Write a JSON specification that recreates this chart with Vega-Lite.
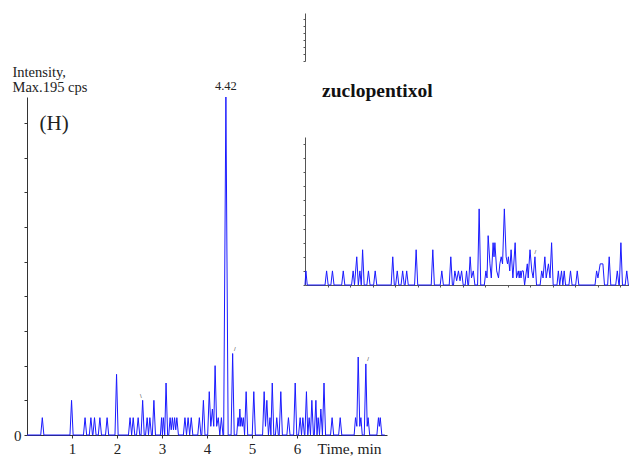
{
  "$schema": "https://vega.github.io/schema/vega-lite/v6.json",
  "width": 629,
  "height": 457,
  "autosize": {"type": "none"},
  "padding": 0,
  "background": "white",
  "config": {
    "view": {"stroke": null},
    "axis": {"grid": false, "domainColor": "#333333", "tickColor": "#333333", "labelColor": "#222222", "titleColor": "#222222", "labelFont": "Liberation Serif", "titleFont": "Liberation Serif", "titleFontWeight": "normal", "domainWidth": 1, "tickWidth": 1}
  },
  "datasets": {
    "main": [
      {"t":0,"v":0},{"t":0.305,"v":0},{"t":0.34,"v":10},{"t":0.375,"v":0},{"t":0.955,"v":0},{"t":0.99,"v":20},{"t":1.025,"v":0},
      {"t":1.255,"v":0},{"t":1.29,"v":10},{"t":1.325,"v":0},{"t":1.385,"v":0},{"t":1.42,"v":10},{"t":1.455,"v":0},{"t":1.465,"v":0},{"t":1.50,"v":10},{"t":1.535,"v":0},
      {"t":1.585,"v":0},{"t":1.62,"v":10},{"t":1.655,"v":0},{"t":1.745,"v":0},{"t":1.78,"v":10},{"t":1.815,"v":0},{"t":1.955,"v":0},{"t":1.99,"v":35},{"t":2.025,"v":0},
      {"t":2.255,"v":0},{"t":2.29,"v":10},{"t":2.325,"v":0},{"t":2.36,"v":10},{"t":2.395,"v":0},{"t":2.435,"v":0},{"t":2.47,"v":10},{"t":2.505,"v":0},
      {"t":2.535,"v":0},{"t":2.57,"v":20},{"t":2.605,"v":0},{"t":2.635,"v":0},{"t":2.67,"v":10},{"t":2.70,"v":0},{"t":2.73,"v":10},{"t":2.765,"v":0},
      {"t":2.785,"v":0},{"t":2.82,"v":20},{"t":2.855,"v":0},{"t":2.965,"v":0},{"t":2.99,"v":10},{"t":3.01,"v":0},{"t":3.03,"v":10},{"t":3.06,"v":0},{"t":3.09,"v":30},{"t":3.125,"v":0},
      {"t":3.15,"v":0},{"t":3.18,"v":10},{"t":3.205,"v":3},{"t":3.23,"v":10},{"t":3.255,"v":3},{"t":3.28,"v":10},{"t":3.305,"v":3},{"t":3.33,"v":10},{"t":3.365,"v":0},
      {"t":3.475,"v":0},{"t":3.51,"v":10},{"t":3.545,"v":0},{"t":3.58,"v":10},{"t":3.615,"v":0},{"t":3.65,"v":10},{"t":3.685,"v":0},
      {"t":3.795,"v":0},{"t":3.83,"v":10},{"t":3.865,"v":0},{"t":3.885,"v":0},{"t":3.92,"v":20},{"t":3.955,"v":0},
      {"t":4.015,"v":0},{"t":4.05,"v":25},{"t":4.085,"v":5},{"t":4.12,"v":15},{"t":4.15,"v":5},{"t":4.18,"v":40},{"t":4.215,"v":5},{"t":4.25,"v":10},{"t":4.285,"v":0},{"t":4.32,"v":10},{"t":4.355,"v":0},
      {"t":4.37,"v":0},{"t":4.42,"v":195},{"t":4.47,"v":0},{"t":4.535,"v":0},{"t":4.57,"v":47},{"t":4.605,"v":0},
      {"t":4.66,"v":0},{"t":4.69,"v":10},{"t":4.71,"v":5},{"t":4.73,"v":15},{"t":4.75,"v":5},{"t":4.77,"v":10},{"t":4.79,"v":5},{"t":4.81,"v":10},{"t":4.835,"v":0},{"t":4.87,"v":25},{"t":4.905,"v":0},
      {"t":5.005,"v":0},{"t":5.04,"v":25},{"t":5.075,"v":0},{"t":5.235,"v":0},{"t":5.27,"v":25},{"t":5.30,"v":5},{"t":5.33,"v":20},{"t":5.365,"v":0},{"t":5.40,"v":10},{"t":5.42,"v":0},{"t":5.45,"v":30},{"t":5.485,"v":0},
      {"t":5.52,"v":0},{"t":5.55,"v":10},{"t":5.585,"v":0},{"t":5.605,"v":0},{"t":5.64,"v":25},{"t":5.675,"v":0},{"t":5.775,"v":0},{"t":5.81,"v":10},{"t":5.845,"v":0},{"t":5.925,"v":0},{"t":5.96,"v":30},{"t":5.995,"v":0},
      {"t":6.035,"v":0},{"t":6.07,"v":10},{"t":6.10,"v":0},{"t":6.13,"v":10},{"t":6.165,"v":0},{"t":6.175,"v":0},{"t":6.21,"v":25},{"t":6.24,"v":0},{"t":6.27,"v":10},{"t":6.30,"v":0},{"t":6.33,"v":20},{"t":6.365,"v":0},
      {"t":6.385,"v":0},{"t":6.42,"v":20},{"t":6.445,"v":0},{"t":6.47,"v":10},{"t":6.50,"v":0},{"t":6.53,"v":15},{"t":6.565,"v":0},{"t":6.60,"v":30},{"t":6.635,"v":0},
      {"t":6.745,"v":0},{"t":6.78,"v":10},{"t":6.815,"v":0},{"t":6.925,"v":0},{"t":6.96,"v":10},{"t":6.995,"v":0},
      {"t":7.27,"v":0},{"t":7.30,"v":10},{"t":7.33,"v":5},{"t":7.36,"v":45},{"t":7.395,"v":5},{"t":7.42,"v":10},{"t":7.45,"v":0},{"t":7.495,"v":0},{"t":7.53,"v":41},{"t":7.56,"v":5},{"t":7.58,"v":10},{"t":7.615,"v":0},
      {"t":7.775,"v":0},{"t":7.81,"v":10},{"t":7.83,"v":5},{"t":7.85,"v":10},{"t":7.885,"v":0},{"t":7.95,"v":0}
    ],
    "inset": [
      {"t":0,"v":0},{"t":0.02,"v":1},{"t":0.05,"v":0},{"t":0.445,"v":0},{"t":0.48,"v":1},{"t":0.515,"v":0},{"t":0.575,"v":0},{"t":0.61,"v":1},{"t":0.645,"v":0},
      {"t":0.815,"v":0},{"t":0.85,"v":1},{"t":0.885,"v":0},{"t":1.035,"v":0},{"t":1.07,"v":1},{"t":1.10,"v":0},{"t":1.15,"v":2},{"t":1.185,"v":0},{"t":1.22,"v":1},{"t":1.25,"v":0},{"t":1.28,"v":2.5},{"t":1.315,"v":0},
      {"t":1.375,"v":0},{"t":1.41,"v":1},{"t":1.445,"v":0},{"t":1.525,"v":0},{"t":1.56,"v":1},{"t":1.595,"v":0},{"t":1.915,"v":0},{"t":1.95,"v":2},{"t":1.985,"v":0},
      {"t":2.015,"v":0},{"t":2.05,"v":1},{"t":2.085,"v":0},{"t":2.135,"v":0},{"t":2.17,"v":1},{"t":2.205,"v":0},{"t":2.225,"v":0},{"t":2.26,"v":1},{"t":2.295,"v":0},
      {"t":2.435,"v":0},{"t":2.47,"v":2.5},{"t":2.505,"v":0},{"t":2.805,"v":0},{"t":2.84,"v":2.5},{"t":2.875,"v":0},{"t":3.005,"v":0},{"t":3.04,"v":1},{"t":3.075,"v":0},
      {"t":3.205,"v":0},{"t":3.24,"v":2},{"t":3.275,"v":0},{"t":3.30,"v":0},{"t":3.33,"v":1},{"t":3.37,"v":0.3},{"t":3.41,"v":1},{"t":3.445,"v":0.3},{"t":3.48,"v":1},{"t":3.515,"v":0},
      {"t":3.56,"v":0},{"t":3.59,"v":1},{"t":3.62,"v":0},{"t":3.635,"v":0},{"t":3.67,"v":2},{"t":3.70,"v":0.5},{"t":3.74,"v":1},{"t":3.775,"v":0},{"t":3.835,"v":0},{"t":3.87,"v":5.4},{"t":3.905,"v":0},
      {"t":3.985,"v":0},{"t":4.02,"v":1},{"t":4.045,"v":0.5},{"t":4.07,"v":3.5},{"t":4.11,"v":1.5},{"t":4.14,"v":0.5},{"t":4.18,"v":3},{"t":4.20,"v":2},{"t":4.22,"v":3},{"t":4.26,"v":1},{"t":4.30,"v":0.5},
      {"t":4.33,"v":1.5},{"t":4.36,"v":2},{"t":4.39,"v":1.5},{"t":4.43,"v":5.4},{"t":4.47,"v":2},{"t":4.50,"v":1.5},{"t":4.52,"v":2},{"t":4.55,"v":1},{"t":4.58,"v":2.5},{"t":4.62,"v":0.5},{"t":4.67,"v":3},{"t":4.70,"v":0.5},
      {"t":4.74,"v":1},{"t":4.76,"v":0.5},{"t":4.78,"v":1},{"t":4.80,"v":0.5},{"t":4.82,"v":1},{"t":4.85,"v":1},{"t":4.88,"v":0},{"t":4.94,"v":1.5},{"t":4.96,"v":0.5},{"t":5.00,"v":2.5},{"t":5.04,"v":1},{"t":5.07,"v":0.5},{"t":5.11,"v":2},{"t":5.145,"v":0},
      {"t":5.225,"v":0},{"t":5.26,"v":1},{"t":5.29,"v":0.5},{"t":5.33,"v":2},{"t":5.36,"v":0.5},{"t":5.41,"v":1.5},{"t":5.445,"v":0.5},{"t":5.48,"v":3},{"t":5.515,"v":0},
      {"t":5.60,"v":0},{"t":5.63,"v":1},{"t":5.66,"v":0},{"t":5.70,"v":1},{"t":5.73,"v":0},{"t":5.76,"v":1},{"t":5.79,"v":0},{"t":5.865,"v":0},{"t":5.90,"v":1},{"t":5.935,"v":0},{"t":6.015,"v":0},{"t":6.05,"v":1},{"t":6.085,"v":0},
      {"t":6.445,"v":0},{"t":6.48,"v":1},{"t":6.51,"v":0.5},{"t":6.56,"v":1.5},{"t":6.62,"v":1.5},{"t":6.655,"v":0},{"t":6.725,"v":0},{"t":6.76,"v":2},{"t":6.795,"v":0},
      {"t":6.905,"v":0},{"t":6.94,"v":1},{"t":6.975,"v":0},{"t":6.985,"v":0},{"t":7.02,"v":3},{"t":7.055,"v":0},{"t":7.115,"v":0},{"t":7.15,"v":1},{"t":7.185,"v":0},{"t":7.5,"v":0}
    ],
    "stub": [{"v":0}],
    "mainLabels": [
      {"t":4.42,"v":195,"label":"4.42"}
    ],
    "mainMarkers": [
      {"t":2.53,"v":21,"glyph":"\\"},
      {"t":4.62,"v":48,"glyph":"/"},
      {"t":7.58,"v":42,"glyph":"/"}
    ],
    "insetMarkers": [
      {"t":5.12,"v":2.1,"glyph":"/"}
    ]
  },
  "layer": [
    {
      "layer": [
        {
          "data": {"name": "main"},
          "mark": {"type": "line", "color": "#1a1aff", "strokeWidth": 1, "interpolate": "linear"},
          "encoding": {
            "x": {"field": "t", "type": "quantitative", "scale": {"domain": [0, 8], "range": [27, 387], "nice": false, "zero": false},
              "axis": {"orient": "bottom", "offset": -22, "values": [1,2,3,4,5,6], "format": "d", "tickSize": 3, "labelFontSize": 15, "labelPadding": 3,
                "title": "Time, min", "titleX": 317, "titleY": 18, "titleAlign": "left", "titleBaseline": "alphabetic", "titleFontSize": 15.5}},
            "y": {"field": "v", "type": "quantitative", "scale": {"domain": [0, 195], "range": [435, 97], "nice": false, "zero": false},
              "axis": {"orient": "left", "offset": -27, "values": [0,10,20,30,40,50,60,70,80,90,100,110,120,130,140,150,160,170,180,190],
                "labelExpr": "datum.value === 0 ? '0' : ''", "tickSize": 3, "labelFontSize": 15, "labelPadding": 3, "labelBaseline": "middle",
                "title": ["Intensity,", "Max.195 cps"], "titleAngle": 0, "titleAlign": "left", "titleBaseline": "alphabetic",
                "titleX": -15, "titleY": 76, "titleFontSize": 14.5, "titleLineHeight": 15}}
          }
        },
        {
          "data": {"name": "mainLabels"},
          "mark": {"type": "text", "font": "Liberation Serif", "fontSize": 12.5, "color": "#222222", "baseline": "bottom", "dy": -4},
          "encoding": {"x": {"field": "t", "type": "quantitative"}, "y": {"field": "v", "type": "quantitative"}, "text": {"field": "label"}}
        },
        {
          "data": {"name": "mainMarkers"},
          "mark": {"type": "text", "font": "Liberation Sans", "fontSize": 6, "color": "#444444", "baseline": "bottom"},
          "encoding": {"x": {"field": "t", "type": "quantitative"}, "y": {"field": "v", "type": "quantitative"}, "text": {"field": "glyph"}}
        },
        {
          "data": {"values": [{"label": "(H)"}]},
          "mark": {"type": "text", "font": "Liberation Serif", "fontSize": 21, "color": "#222222", "align": "left", "baseline": "alphabetic"},
          "encoding": {"x": {"datum": 0.28, "type": "quantitative"}, "y": {"datum": 176, "type": "quantitative"}, "text": {"field": "label"}}
        }
      ]
    },
    {
      "layer": [
        {
          "data": {"name": "inset"},
          "mark": {"type": "line", "color": "#1a1aff", "strokeWidth": 1},
          "encoding": {
            "x": {"field": "t", "type": "quantitative", "scale": {"domain": [0, 8], "range": [305, 665], "nice": false, "zero": false},
              "axis": {"orient": "bottom", "offset": -172, "values": [0.5,1,1.5,2,2.5,3,3.5,4,4.5,5,5.5,6,6.5,7,7.5,8], "labels": false, "tickSize": 2, "title": null, "domainColor": "#555555", "tickColor": "#555555"}},
            "y": {"field": "v", "type": "quantitative", "scale": {"domain": [0, 10.5], "range": [285, 137], "nice": false, "zero": false},
              "axis": {"orient": "left", "offset": -305, "values": [0,0.5,1,1.5,2,2.5,3,3.5,4,4.5,5,5.5,6,6.5,7,7.5,8,8.5,9,9.5,10,10.5], "labels": false, "tickSize": 2, "title": null, "domainColor": "#555555", "tickColor": "#555555"}}
          }
        },
        {
          "data": {"name": "insetMarkers"},
          "mark": {"type": "text", "font": "Liberation Sans", "fontSize": 6, "color": "#444444", "baseline": "bottom"},
          "encoding": {"x": {"field": "t", "type": "quantitative"}, "y": {"field": "v", "type": "quantitative"}, "text": {"field": "glyph"}}
        },
        {
          "data": {"values": [{"label": "zuclopentixol"}]},
          "mark": {"type": "text", "font": "Liberation Serif", "fontSize": 19.5, "fontWeight": "bold", "color": "#111111", "align": "left", "baseline": "alphabetic"},
          "encoding": {"x": {"datum": 0.38, "type": "quantitative"}, "y": {"datum": 13.34, "type": "quantitative"}, "text": {"field": "label"}}
        }
      ]
    },
    {
      "data": {"name": "stub"},
      "mark": {"type": "point", "opacity": 0},
      "encoding": {
        "y": {"field": "v", "type": "quantitative", "scale": {"domain": [0, 3.4], "range": [61, 13], "nice": false, "zero": false},
          "axis": {"orient": "left", "offset": -305, "values": [0,0.5,1,1.5,2,2.5,3], "labels": false, "tickSize": 2, "title": null, "domainColor": "#555555", "tickColor": "#555555"}}
      }
    }
  ],
  "resolve": {"scale": {"x": "independent", "y": "independent"}, "axis": {"x": "independent", "y": "independent"}}
}
